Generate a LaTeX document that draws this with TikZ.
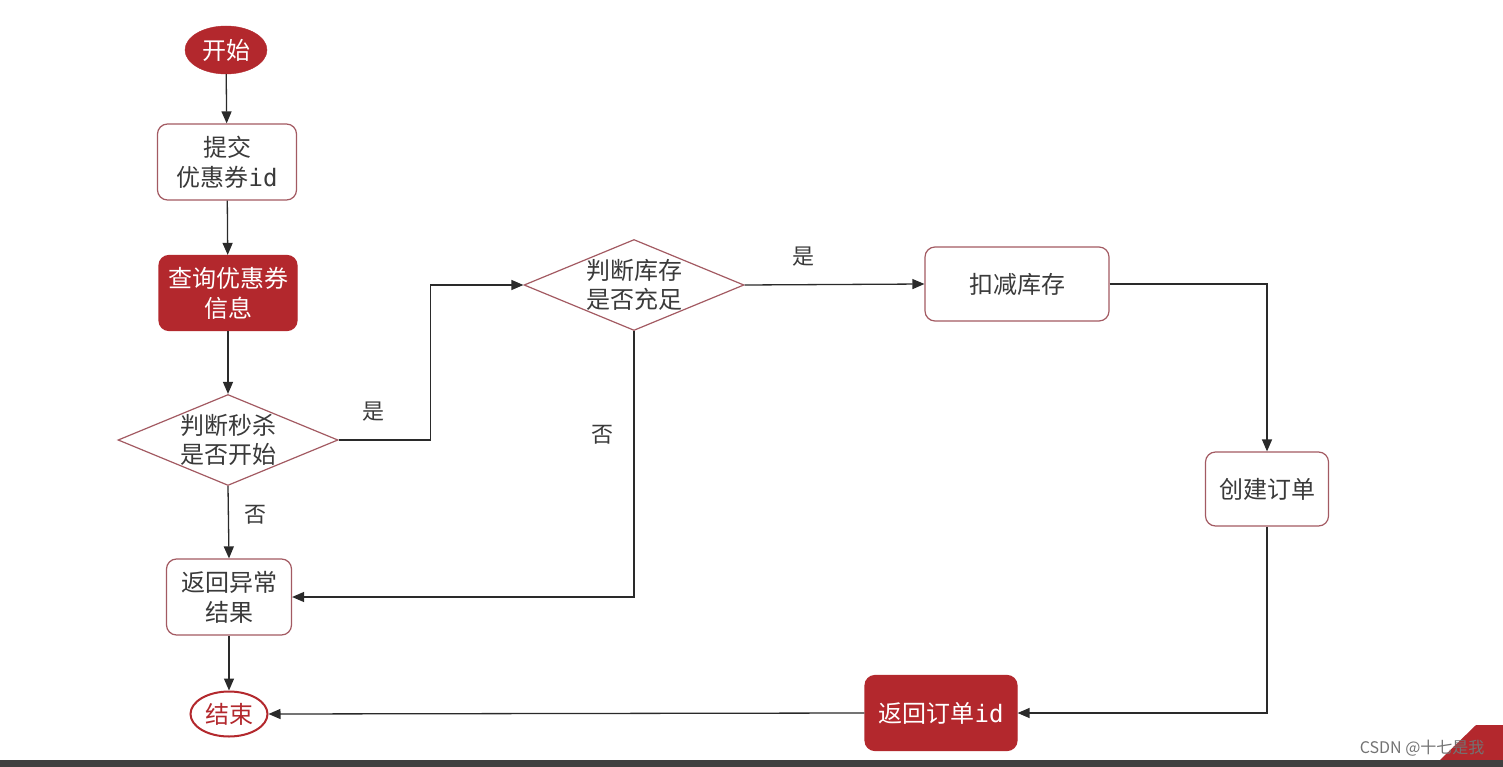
\documentclass[tikz,border=0pt]{standalone}
\usepackage{fontspec}
\setmainfont{Noto Sans CJK SC}
\newfontfamily\idfont{DejaVu Sans Mono}
\usetikzlibrary{arrows.meta,shapes.geometric}
\definecolor{dred}{HTML}{B3282D}
\definecolor{bord}{HTML}{A35A62}
\definecolor{txtg}{HTML}{3A3A3A}
\definecolor{lineg}{HTML}{2A2A2A}
\newcommand{\idtxt}{{\idfont id}}
\tikzset{
  box/.style={draw=bord, line width=1.2pt, rounded corners=10pt, fill=white, text=txtg,
    align=center, inner sep=0pt, font=\fontsize{24}{30}\selectfont},
  redbox/.style={draw=dred, line width=1.2pt, rounded corners=10pt, fill=dred, text=white,
    align=center, inner sep=0pt, font=\fontsize{24}{30}\selectfont},
  dia/.style={draw=bord, line width=1.2pt, diamond, fill=white, inner sep=0pt,
    minimum width=220pt, minimum height=91pt},
  diatext/.style={text=txtg, align=center, font=\fontsize{24}{29}\selectfont},
  conn/.style={line width=1.3pt, draw=lineg, -{Triangle[length=12pt,width=10pt]}},
  lab/.style={text=txtg, font=\fontsize{22}{24}\selectfont}
}
\begin{document}
\begin{tikzpicture}[x=1pt,y=-1pt]
\useasboundingbox (0,0) rectangle (1503,767);
\fill[white] (0,0) rectangle (1503,767);

% nodes
\node[ellipse, fill=dred, draw=dred, text=white, inner sep=0pt, minimum width=82pt, minimum height=48pt,
  font=\fontsize{24}{28}\selectfont] (start) at (226,50) {开始};
\node[box, minimum width=139pt, minimum height=76pt] (submit) at (227,162) {提交\\优惠券\idtxt};
\node[redbox, minimum width=138pt, minimum height=75pt] (query) at (228,293) {查询优惠券\\信息};
\node[dia] (d1) at (228,440) {};
\node[diatext] at (d1.center) {判断秒杀\\是否开始};
\node[box, minimum width=125pt, minimum height=76pt] (err) at (229,597) {返回异常\\结果};
\node[ellipse, fill=white, draw=dred, line width=2pt, text=dred, inner sep=0pt, minimum width=77pt,
  minimum height=45pt, font=\fontsize{24}{28}\selectfont] (end) at (229,714) {结束};
\node[dia] (d2) at (634,285) {};
\node[diatext] at (d2.center) {判断库存\\是否充足};
\node[box, minimum width=184pt, minimum height=74pt] (deduct) at (1017,284) {扣减库存};
\node[box, minimum width=123pt, minimum height=74pt] (create) at (1267,489) {创建订单};
\node[redbox, minimum width=152pt, minimum height=75pt] (ret) at (941,713) {返回订单\idtxt};

% connectors
\draw[conn] (start) -- (submit);
\draw[conn] (submit) -- (query);
\draw[conn] (query) -- (d1);
\draw[conn] (d1.east) -- ++(92,0) |- (d2.west);
\draw[conn] (d1.south) -- (err.north);
\draw[conn] (d2.south) |- (err.east);
\draw[conn] (d2.east) -- (deduct.west);
\draw[conn] (deduct.east) -| (create.north);
\draw[conn] (create.south) |- (ret.east);
\draw[conn] (ret.west) -- (end.east);
\draw[conn] (err.south) -- (end.north);

% labels
\node[lab] (l1) at (373,412) {是};
\node[lab] (l2) at (255,515) {否};
\node[lab] (l3) at (602,435) {否};
\node[lab] (l4) at (803,257) {是};

% screenshot decorations
\fill[dred] (1440,760) -- (1476,725) -- (1503,725) -- (1503,760) -- cycle;
\fill[black!75] (0,760) rectangle (1503,767);
\node[text=black!55, font=\fontsize{16}{18}\selectfont, anchor=east] (wm) at (1488,748) {CSDN @十七是我};
\end{tikzpicture}
\end{document}
